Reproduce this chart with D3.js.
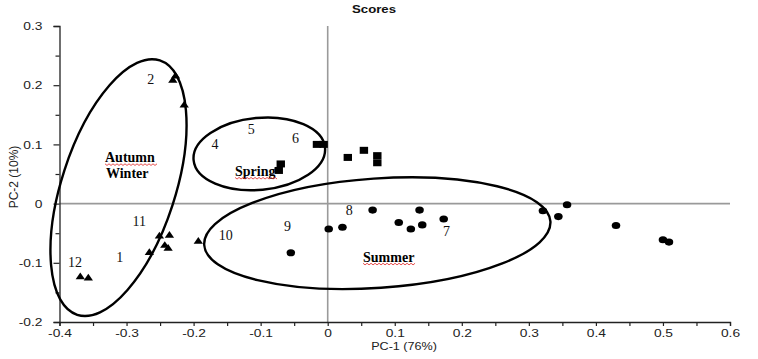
<!DOCTYPE html>
<html><head><meta charset="utf-8">
<script src="https://cdn.jsdelivr.net/npm/d3@7"></script>
<style>
html,body{margin:0;padding:0;background:#fff;}
svg{display:block;}
</style></head>
<body>
<svg id="chart" width="758" height="359"></svg>
<script>
// ---- data ----
const triX = [-0.231, -0.227, -0.214, -0.369, -0.357, -0.266, -0.251, -0.236, -0.243, -0.238, -0.193];
const triY = [0.208, 0.215, 0.166, -0.124, -0.126, -0.083, -0.055, -0.054, -0.071, -0.076, -0.064];
const sqX = [-0.070, -0.073, -0.016, -0.006, 0.030, 0.054, 0.074, 0.074];
const sqY = [0.067, 0.056, 0.100, 0.100, 0.078, 0.090, 0.081, 0.069];
const cirX = [0.067, 0.137, 0.106, 0.124, 0.141, 0.173, 0.022, 0.0015, -0.055, 0.321, 0.344, 0.357, 0.430, 0.500, 0.509];
const cirY = [-0.011, -0.011, -0.032, -0.043, -0.036, -0.026, -0.040, -0.043, -0.083, -0.012, -0.022, -0.002, -0.037, -0.061, -0.065];
const xTicks = [-0.4, -0.3, -0.2, -0.1, 0, 0.1, 0.2, 0.3, 0.4, 0.5, 0.6];
const yTicks = [-0.2, -0.1, 0, 0.1, 0.2, 0.3];
const numLabels = ["2", "5", "4", "6", "11", "1", "12", "10", "9", "8", "7"];
const numX = [-0.264, -0.114, -0.168, -0.048, -0.281, -0.310, -0.377, -0.152, -0.060, 0.032, 0.177];
const numY = [0.211, 0.126, 0.101, 0.110, -0.029, -0.090, -0.098, -0.053, -0.038, -0.011, -0.046];
const groupNames = ["Autumn", "Winter", "Spring", "Summer"];
const groupX = [-0.295, -0.299, -0.108, 0.091];
const groupY = [0.078, 0.051, 0.055, -0.090];
const groupWavy = [true, false, true, true];
// group ellipses: centre in data units
const ellCX = [-0.312, -0.102, 0.074];
const ellCY = [0.027, 0.084, -0.050];

// ---- layout ----
const SX = 1.2; // horizontal stretch of the original graphic's text
const svg = d3.select("#chart");
const x = d3.scaleLinear().domain([-0.4, 0.6]).range([59.5, 730]);
const y = d3.scaleLinear().domain([-0.2, 0.3]).range([322, 26]);
const ellRX = [133.7, 66, 173.5], ellRY = [56.8, 36, 54.7], ellRot = [-72, -5.4, -3.9];

// zero lines
svg.append("line").attr("x1", x(0)).attr("x2", x(0)).attr("y1", y(0.3)).attr("y2", y(-0.2))
  .attr("stroke", "#9a9a9a").attr("stroke-width", 1.6);
svg.append("line").attr("x1", x(-0.4)).attr("x2", x(0.6)).attr("y1", y(0)).attr("y2", y(0))
  .attr("stroke", "#9a9a9a").attr("stroke-width", 1.6);

// axes
const minorX = d3.range(-0.4, 0.6001, 0.05).map(v => +v.toFixed(2));
const minorY = d3.range(-0.2, 0.3001, 0.05).map(v => +v.toFixed(2));
const isMajor = v => Math.abs(Math.round(v * 10) - v * 10) < 1e-6;

const xAxis = svg.append("g").attr("transform", `translate(0,${y(-0.2)})`)
  .call(d3.axisBottom(x).tickValues(minorX).tickSize(4).tickPadding(3)
    .tickFormat(v => isMajor(v) ? d3.format("")(+v.toFixed(1)) : ""));
const yAxis = svg.append("g").attr("transform", `translate(${x(-0.4)},0)`)
  .call(d3.axisLeft(y).tickValues(minorY).tickSize(6).tickPadding(11)
    .tickFormat(v => isMajor(v) ? d3.format("")(+v.toFixed(1)) : ""));
[xAxis, yAxis].forEach(g => {
  g.select(".domain").attr("stroke", "#222").attr("stroke-width", 1.3);
  g.selectAll(".tick line").attr("stroke", "#222").attr("stroke-width", 1.2);
  g.selectAll(".tick text").attr("font-family", "Liberation Sans, Arial, sans-serif")
    .attr("font-size", 11.5).attr("fill", "#222");
});
yAxis.selectAll(".tick line").attr("x2", function(d){ return isMajor(d) ? -6 : -4; });
xAxis.selectAll(".tick text").attr("transform", `scale(${SX},1)`);
yAxis.selectAll(".tick text").each(function(){
  const t = d3.select(this);
  t.attr("x", (+t.attr("x")) / SX).attr("transform", `scale(${SX},1)`);
});
// minus sign style
xAxis.selectAll(".tick text").text(function(){ return d3.select(this).text().replace("−", "-"); });
yAxis.selectAll(".tick text").text(function(){ return d3.select(this).text().replace("−", "-"); });

// titles
svg.append("text").attr("transform", `translate(374,13) scale(${SX},1)`)
  .attr("text-anchor", "middle").attr("font-family", "Liberation Sans, Arial, sans-serif")
  .attr("font-size", 11).attr("font-weight", "bold").attr("fill", "#111").text("Scores");
svg.append("text").attr("transform", `translate(404,350) scale(${SX},1)`)
  .attr("text-anchor", "middle").attr("font-family", "Liberation Sans, Arial, sans-serif")
  .attr("font-size", 10.5).attr("fill", "#222").text("PC-1 (76%)");
svg.append("text").attr("transform", `translate(18,177) rotate(-90)`)
  .attr("text-anchor", "middle").attr("font-family", "Liberation Sans, Arial, sans-serif")
  .attr("font-size", 12).attr("fill", "#222").text("PC-2 (10%)");

// ellipses
svg.append("g").selectAll("ellipse").data(ellCX).join("ellipse")
  .attr("transform", (d, i) => `translate(${x(d)},${y(ellCY[i])}) rotate(${ellRot[i]})`)
  .attr("rx", (d, i) => ellRX[i]).attr("ry", (d, i) => ellRY[i])
  .attr("fill", "none").attr("stroke", "#000").attr("stroke-width", 2.4);

// markers
const sym = (type, size) => d3.symbol().type(type).size(size)();
const mk = (xs, ys, path) => svg.append("g").selectAll("path").data(xs).join("path")
  .attr("d", path)
  .attr("transform", (d, i) => `translate(${x(d)},${y(ys[i])}) scale(${SX},1)`)
  .attr("fill", "#000");
mk(triX, triY, sym(d3.symbolTriangle, 26));
mk(sqX, sqY, sym(d3.symbolSquare, 49));
mk(cirX, cirY, sym(d3.symbolCircle, 40));

// number labels
svg.append("g").selectAll("text").data(numLabels).join("text")
  .attr("x", (d, i) => x(numX[i])).attr("y", (d, i) => y(numY[i]))
  .attr("dy", "0.35em").attr("text-anchor", "middle")
  .attr("font-family", "Liberation Serif, Times New Roman, serif")
  .attr("font-size", 14).attr("fill", "#111").text(d => d);

// group names
const gn = svg.append("g").selectAll("g").data(groupNames).join("g");
gn.append("text")
  .attr("x", (d, i) => x(groupX[i])).attr("y", (d, i) => y(groupY[i]))
  .attr("dy", "0.35em").attr("text-anchor", "middle")
  .attr("font-family", "Liberation Serif, Times New Roman, serif")
  .attr("font-size", 14).attr("font-weight", "bold").attr("fill", "#000").text(d => d);
gn.each(function(d, i){
  if (!groupWavy[i]) return;
  const bb = d3.select(this).select("text").node().getBBox();
  const yy = bb.y + bb.height - 1.5;
  let p = `M${bb.x},${yy}`;
  for (let xx = bb.x, k = 0; xx < bb.x + bb.width; xx += 2, k++) p += `L${xx + 2},${yy + (k % 2 ? 0 : 1.6)}`;
  d3.select(this).append("path").attr("d", p).attr("fill", "none")
    .attr("stroke", "#e02020").attr("stroke-width", 0.8);
});
</script>
</body></html>
